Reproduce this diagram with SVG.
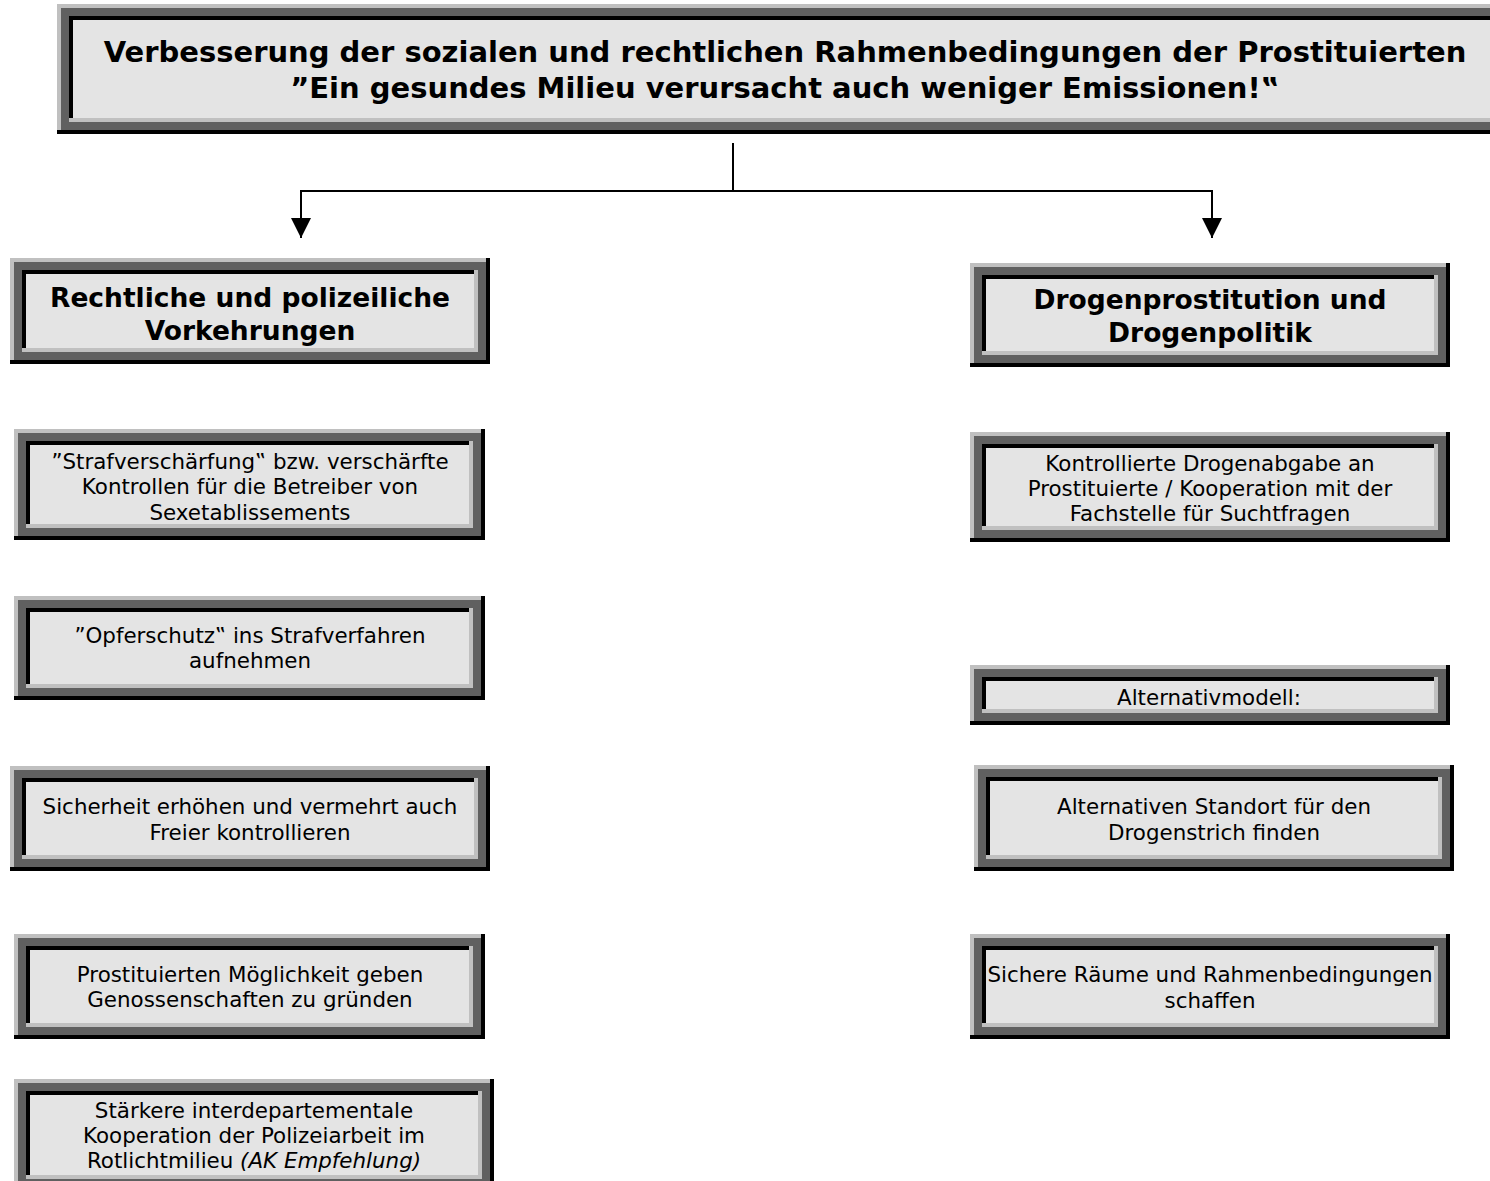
<svg xmlns="http://www.w3.org/2000/svg" width="1490" height="1181" viewBox="0 0 1490 1181">
<defs>
<style>
.k{fill:#000}
.l{fill:#c0c0c0}
.d{fill:#606060}
.f{fill:#e4e4e4}
text{font-family:"DejaVu Sans","Verdana",sans-serif;fill:#000;text-anchor:middle}
.t{font-size:29px;font-weight:bold}
.h{font-size:26.5px;font-weight:bold}
.b{font-size:21.4px}
.c{fill:none;stroke:#000;stroke-width:2}
</style>
<marker id="ah" viewBox="0 0 20 20" refX="20" refY="10" markerWidth="20" markerHeight="20" markerUnits="userSpaceOnUse" orient="auto">
<path d="M0,0 L20,10 L0,20 z" fill="#000"/>
</marker>
</defs>
<rect width="1490" height="1181" fill="#fff"/>

<g id="title">
<rect class="k" x="57" y="4" width="1456" height="130"/>
<rect class="l" x="57" y="4" width="1452" height="126"/>
<rect class="d" x="61" y="8" width="1448" height="122"/>
<rect class="l" x="69" y="16" width="1432" height="106"/>
<rect class="k" x="69" y="16" width="1428" height="102"/>
<rect class="f" x="73" y="20" width="1424" height="98"/>
<text class="t" x="785" y="62">Verbesserung der sozialen und rechtlichen Rahmenbedingungen der Prostituierten</text>
<text class="t" x="785" y="98">”Ein gesundes Milieu verursacht auch weniger Emissionen!‟</text>
</g>

<g id="rechtliche">
<rect class="k" x="10" y="258" width="480" height="106"/>
<rect class="l" x="10" y="258" width="476" height="102"/>
<rect class="d" x="14" y="262" width="472" height="98"/>
<rect class="l" x="22" y="270" width="456" height="82"/>
<rect class="k" x="22" y="270" width="452" height="78"/>
<rect class="f" x="26" y="274" width="448" height="74"/>
<text class="h" x="250" y="307">Rechtliche und polizeiliche</text>
<text class="h" x="250" y="340">Vorkehrungen</text>
</g>

<g id="drogen">
<rect class="k" x="970" y="263" width="480" height="104"/>
<rect class="l" x="970" y="263" width="476" height="100"/>
<rect class="d" x="974" y="267" width="472" height="96"/>
<rect class="l" x="982" y="275" width="456" height="80"/>
<rect class="k" x="982" y="275" width="452" height="76"/>
<rect class="f" x="986" y="279" width="448" height="72"/>
<text class="h" x="1210" y="309">Drogenprostitution und</text>
<text class="h" x="1210" y="342">Drogenpolitik</text>
</g>

<g id="straf">
<rect class="k" x="14" y="429" width="471" height="111"/>
<rect class="l" x="14" y="429" width="467" height="107"/>
<rect class="d" x="18" y="433" width="463" height="103"/>
<rect class="l" x="26" y="441" width="447" height="87"/>
<rect class="k" x="26" y="441" width="443" height="83"/>
<rect class="f" x="30" y="445" width="439" height="79"/>
<text class="b" x="250" y="469">”Strafverschärfung‟ bzw. verschärfte</text>
<text class="b" x="250" y="494">Kontrollen für die Betreiber von</text>
<text class="b" x="250" y="520">Sexetablissements</text>
</g>

<g id="kontrolliert">
<rect class="k" x="970" y="432" width="480" height="110"/>
<rect class="l" x="970" y="432" width="476" height="106"/>
<rect class="d" x="974" y="436" width="472" height="102"/>
<rect class="l" x="982" y="444" width="456" height="86"/>
<rect class="k" x="982" y="444" width="452" height="82"/>
<rect class="f" x="986" y="448" width="448" height="78"/>
<text class="b" x="1210" y="471">Kontrollierte Drogenabgabe an</text>
<text class="b" x="1210" y="496">Prostituierte / Kooperation mit der</text>
<text class="b" x="1210" y="521">Fachstelle für Suchtfragen</text>
</g>

<g id="opfer">
<rect class="k" x="14" y="596" width="471" height="104"/>
<rect class="l" x="14" y="596" width="467" height="100"/>
<rect class="d" x="18" y="600" width="463" height="96"/>
<rect class="l" x="26" y="608" width="447" height="80"/>
<rect class="k" x="26" y="608" width="443" height="76"/>
<rect class="f" x="30" y="612" width="439" height="72"/>
<text class="b" x="250" y="643">”Opferschutz‟ ins Strafverfahren</text>
<text class="b" x="250" y="668">aufnehmen</text>
</g>

<g id="alternativmodell">
<rect class="k" x="970" y="665" width="480" height="60"/>
<rect class="l" x="970" y="665" width="476" height="56"/>
<rect class="d" x="974" y="669" width="472" height="52"/>
<rect class="l" x="982" y="677" width="456" height="36"/>
<rect class="k" x="982" y="677" width="452" height="32"/>
<rect class="f" x="986" y="681" width="448" height="28"/>
<text class="b" x="1209" y="705">Alternativmodell:</text>
</g>

<g id="sicherheit">
<rect class="k" x="10" y="766" width="480" height="105"/>
<rect class="l" x="10" y="766" width="476" height="101"/>
<rect class="d" x="14" y="770" width="472" height="97"/>
<rect class="l" x="22" y="778" width="456" height="81"/>
<rect class="k" x="22" y="778" width="452" height="77"/>
<rect class="f" x="26" y="782" width="448" height="73"/>
<text class="b" x="250" y="814">Sicherheit erhöhen und vermehrt auch</text>
<text class="b" x="250" y="840">Freier kontrollieren</text>
</g>

<g id="standort">
<rect class="k" x="974" y="765" width="480" height="106"/>
<rect class="l" x="974" y="765" width="476" height="102"/>
<rect class="d" x="978" y="769" width="472" height="98"/>
<rect class="l" x="986" y="777" width="456" height="82"/>
<rect class="k" x="986" y="777" width="452" height="78"/>
<rect class="f" x="990" y="781" width="448" height="74"/>
<text class="b" x="1214" y="814">Alternativen Standort für den</text>
<text class="b" x="1214" y="840">Drogenstrich finden</text>
</g>

<g id="genossenschaften">
<rect class="k" x="14" y="934" width="471" height="105"/>
<rect class="l" x="14" y="934" width="467" height="101"/>
<rect class="d" x="18" y="938" width="463" height="97"/>
<rect class="l" x="26" y="946" width="447" height="81"/>
<rect class="k" x="26" y="946" width="443" height="77"/>
<rect class="f" x="30" y="950" width="439" height="73"/>
<text class="b" x="250" y="982">Prostituierten Möglichkeit geben</text>
<text class="b" x="250" y="1007">Genossenschaften zu gründen</text>
</g>

<g id="raeume">
<rect class="k" x="970" y="934" width="480" height="105"/>
<rect class="l" x="970" y="934" width="476" height="101"/>
<rect class="d" x="974" y="938" width="472" height="97"/>
<rect class="l" x="982" y="946" width="456" height="81"/>
<rect class="k" x="982" y="946" width="452" height="77"/>
<rect class="f" x="986" y="950" width="448" height="73"/>
<text class="b" x="1210" y="982">Sichere Räume und Rahmenbedingungen</text>
<text class="b" x="1210" y="1008">schaffen</text>
</g>

<g id="kooperation">
<rect class="k" x="14" y="1079" width="480" height="112"/>
<rect class="l" x="14" y="1079" width="476" height="108"/>
<rect class="d" x="18" y="1083" width="472" height="104"/>
<rect class="l" x="26" y="1091" width="456" height="88"/>
<rect class="k" x="26" y="1091" width="452" height="84"/>
<rect class="f" x="30" y="1095" width="448" height="80"/>
<text class="b" x="254" y="1118">Stärkere interdepartementale</text>
<text class="b" x="254" y="1143">Kooperation der Polizeiarbeit im</text>
<text class="b" x="254" y="1168">Rotlichtmilieu <tspan font-style="italic">(AK Empfehlung)</tspan></text>
</g>

<g id="connectors">
<line class="c" x1="733" y1="143" x2="733" y2="191"/>
<line class="c" x1="300" y1="191" x2="1213" y2="191"/>
<line class="c" x1="301" y1="190" x2="301" y2="238" marker-end="url(#ah)"/>
<line class="c" x1="1212" y1="190" x2="1212" y2="238" marker-end="url(#ah)"/>
</g>
</svg>
